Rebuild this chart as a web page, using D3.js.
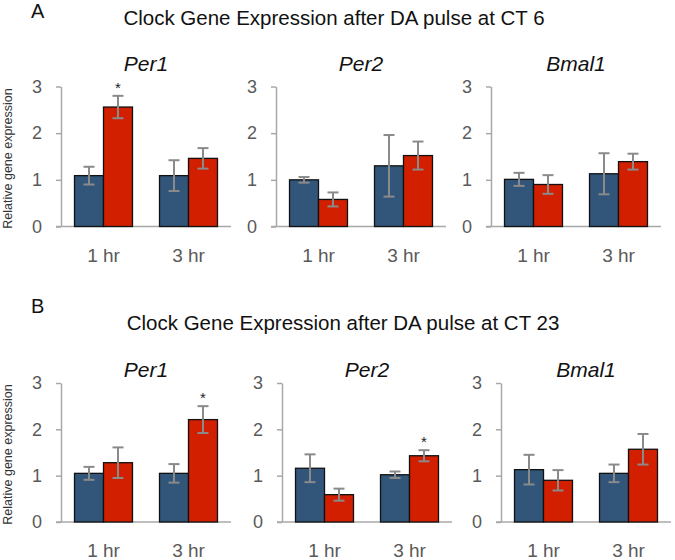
<!DOCTYPE html>
<html>
<head>
<meta charset="utf-8">
<script src="https://cdn.jsdelivr.net/npm/d3@7"></script>
<style>
  html, body { margin: 0; padding: 0; background: #fff; }
  svg { display: block; font-family: "Liberation Sans", Arial, sans-serif; }
</style>
</head>
<body>
<svg id="chart" width="675" height="560"></svg>
<script>
// ---------- data ----------
const categories = ["1 hr", "3 hr"];
const genes = ["Per1", "Per2", "Bmal1"];
const seriesNames = ["Control", "DA"];
const panelLetters = ["A", "B"];
const panelTitles = [
  "Clock Gene Expression after DA pulse at CT 6",
  "Clock Gene Expression after DA pulse at CT 23"
];
const yTicks = [0, 1, 2, 3];
const yLabel = "Relative gene expression";

// values per gene: [1 hr, 3 hr]
const controlA = [[1.09, 1.09], [1.00, 1.30], [1.01, 1.13]];
const daA      = [[2.56, 1.46], [0.58, 1.52], [0.90, 1.39]];
const controlErrA = [[0.19, 0.33], [0.06, 0.66], [0.14, 0.44]];
const daErrA      = [[0.24, 0.22], [0.15, 0.30], [0.20, 0.17]];
const daSigA      = [[1, 0], [0, 0], [0, 0]];

const controlB = [[1.05, 1.05], [1.16, 1.02], [1.13, 1.05]];
const daB      = [[1.28, 2.21], [0.59, 1.43], [0.90, 1.57]];
const controlErrB = [[0.14, 0.20], [0.30, 0.07], [0.32, 0.19]];
const daErrB      = [[0.33, 0.29], [0.13, 0.12], [0.22, 0.33]];
const daSigB      = [[0, 1], [0, 1], [0, 0]];

const panels = [
  { values: [controlA, daA], errs: [controlErrA, daErrA], sig: [null, daSigA] },
  { values: [controlB, daB], errs: [controlErrB, daErrB], sig: [null, daSigB] }
];

// ---------- layout ----------
const colors = ["#32557a", "#d21f00"];
const layout = [
  { letterY: 18, titleX: 334, titleY: 25, geneY: 71, y0: 226.5, y3: 86.5, catY: 262, xs: [61, 276, 491] },
  { letterY: 313, titleX: 343, titleY: 330, geneY: 377, y0: 522, y3: 383, catY: 557, xs: [61, 282, 501] }
];
const plotW = 170;

const svg = d3.select("#chart");

panels.forEach((panel, pi) => {
  const L = layout[pi];
  svg.append("text")
    .attr("x", 31).attr("y", L.letterY)
    .attr("font-size", 20).attr("fill", "#111")
    .text(panelLetters[pi]);
  svg.append("text")
    .attr("x", L.titleX).attr("y", L.titleY)
    .attr("text-anchor", "middle")
    .attr("font-size", 20.5).attr("fill", "#111")
    .text(panelTitles[pi]);

  const y = d3.scaleLinear().domain([0, 3]).range([L.y0, L.y3]);

  genes.forEach((gene, gi) => {
    const x0 = L.xs[gi];
    const g = svg.append("g");
    const x = d3.scaleBand().domain(categories).range([x0, x0 + plotW]).padding(0);
    const xs = d3.scaleBand().domain(seriesNames).range([0, x.bandwidth()])
      .paddingInner(0).paddingOuter(0.466);

    // gene title
    g.append("text")
      .attr("x", x0 + plotW / 2).attr("y", L.geneY)
      .attr("text-anchor", "middle")
      .attr("font-size", 21).attr("font-style", "italic").attr("fill", "#111")
      .text(gene);

    // y axis
    const ax = g.append("g")
      .attr("transform", `translate(${x0},0)`)
      .call(d3.axisLeft(y).tickValues(yTicks).tickFormat(d3.format("d"))
        .tickSize(5).tickSizeOuter(0).tickPadding(14));
    ax.select(".domain").attr("stroke", "#a8a8a8").attr("stroke-width", 1.5);
    ax.selectAll(".tick line").attr("stroke", "#a8a8a8").attr("stroke-width", 1.5);
    ax.selectAll(".tick text").attr("font-size", 18).attr("fill", "#5a5a5a")
      .attr("font-family", "'Liberation Sans', Arial, sans-serif");

    // baseline
    g.append("line")
      .attr("x1", x0 - 5).attr("x2", x0 + plotW)
      .attr("y1", y(0)).attr("y2", y(0))
      .attr("stroke", "#a8a8a8").attr("stroke-width", 1.5);

    // category labels
    g.selectAll(".cat").data(categories).join("text")
      .attr("x", d => x(d) + x.bandwidth() / 2).attr("y", L.catY)
      .attr("text-anchor", "middle")
      .attr("font-size", 19).attr("fill", "#5a5a5a")
      .text(d => d);

    // bars
    seriesNames.forEach((s, si) => {
      const vals = panel.values[si][gi];
      const errs = panel.errs[si][gi];
      categories.forEach((c, ci) => {
        const bx = x(c) + xs(s);
        const bw = xs.bandwidth();
        const v = vals[ci];
        g.append("rect")
          .attr("x", bx).attr("y", y(v))
          .attr("width", bw).attr("height", y(0) - y(v))
          .attr("fill", colors[si]).attr("stroke", "#111").attr("stroke-width", 1.3);
        const cx = bx + bw / 2;
        const e = errs[ci];
        const eb = g.append("g").attr("stroke", "#8a8a8a").attr("stroke-width", 2);
        eb.append("line").attr("x1", cx).attr("x2", cx).attr("y1", y(v + e)).attr("y2", y(v - e));
        eb.append("line").attr("x1", cx - 5.5).attr("x2", cx + 5.5).attr("y1", y(v + e)).attr("y2", y(v + e));
        eb.append("line").attr("x1", cx - 5.5).attr("x2", cx + 5.5).attr("y1", y(v - e)).attr("y2", y(v - e));
        const sig = panel.sig[si];
        if (sig && sig[gi][ci]) {
          g.append("text")
            .attr("x", cx).attr("y", y(v + e) - 3)
            .attr("text-anchor", "middle")
            .attr("font-size", 15).attr("fill", "#222")
            .text("*");
        }
      });
    });
  });

  // y label (left panel only)
  const yMid = (L.y0 + L.y3) / 2 + 2;
  svg.append("text")
    .attr("transform", `translate(12,${yMid}) rotate(-90)`)
    .attr("text-anchor", "middle")
    .attr("font-size", 12.5).attr("fill", "#333")
    .text(yLabel);
});
</script>
</body>
</html>
